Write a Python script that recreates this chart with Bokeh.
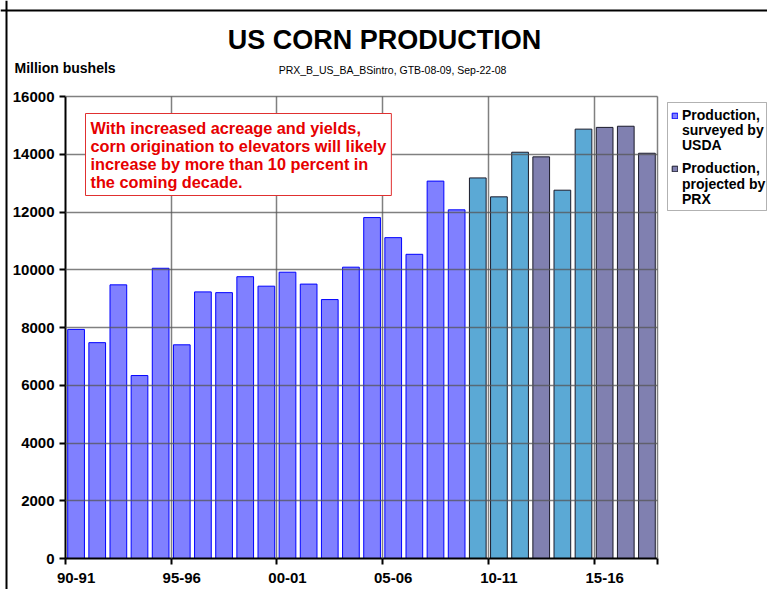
import numpy as np
from bokeh.plotting import figure
from bokeh.models import (ColumnDataSource, Label, Legend, LegendItem,
                          FixedTicker, Range1d, LinearAxis, Grid, Span,
                          BoxAnnotation)
from bokeh.embed import file_html
from bokeh.resources import INLINE

# ---------------- data ----------------
seasons = ["90-91", "91-92", "92-93", "93-94", "94-95", "95-96", "96-97",
           "97-98", "98-99", "99-00", "00-01", "01-02", "02-03", "03-04",
           "04-05", "05-06", "06-07", "07-08", "08-09", "09-10", "10-11",
           "11-12", "12-13", "13-14", "14-15", "15-16", "16-17", "17-18"]
production = [7934, 7475, 9477, 6336, 10051, 7400, 9233, 9207, 9759, 9431,
              9915, 9503, 8967, 10089, 11807, 11112, 10535, 13070, 12075,
              13180, 12525, 14070, 13910, 12755, 14870, 14930, 14970, 14035]
kind = ["surveyed", "surveyed", "surveyed", "surveyed", "surveyed",
        "surveyed", "surveyed", "surveyed", "surveyed", "surveyed",
        "surveyed", "surveyed", "surveyed", "surveyed", "surveyed",
        "surveyed", "surveyed", "surveyed", "surveyed",
        "baseline", "baseline", "baseline", "projected", "baseline",
        "baseline", "projected", "projected", "projected"]
x_label_seasons = ["90-91", "95-96", "00-01", "05-06", "10-11", "15-16"]
y_ticks = [0, 2000, 4000, 6000, 8000, 10000, 12000, 14000, 16000]

title_text = "US CORN PRODUCTION"
unit_text = "Million bushels"
source_text = "PRX_B_US_BA_BSintro, GTB-08-09, Sep-22-08"
note_text = ("With increased acreage and yields,\n"
             "corn origination to elevators will likely\n"
             "increase by more than 10 percent in\n"
             "the coming decade.")
legend_head = "Production,"
legend_usda_rest = "surveyed by\nUSDA"
legend_prx_rest = "projected by\nPRX"

# ---------------- layout (page pixels) ----------------
W, H = 767, 589          # canvas size
OX, OY = 0, 0            # canvas origin on the page
FL, FR, FT, FB = 65, 657, 96, 558   # plotting area on the page
n = len(seasons)
YMAX = 16000
kx = (FR - FL) / n
ky = (FB - FT) / YMAX


def xd(px):
    return (px - FL) / kx


def yd(py):
    return (FB - py) / ky


FONT = "Liberation Sans"

p = figure(width=W, height=H,
           x_range=Range1d(xd(OX), xd(OX + W)),
           y_range=Range1d(yd(OY + H), yd(OY)),
           x_axis_type=None, y_axis_type=None,
           output_backend="svg", toolbar_location=None,
           min_border=0, min_border_left=0, min_border_right=0,
           min_border_top=0, min_border_bottom=0)
p.background_fill_color = "white"
p.border_fill_color = "white"
p.outline_line_color = None

xpos = np.arange(n) + 0.5
cols = {"x": list(xpos), "top": production, "kind": kind, "season": seasons}


def subset(k):
    idx = [i for i in range(n) if kind[i] == k]
    return ColumnDataSource({c: [v[i] for i in idx] for c, v in cols.items()})


r_s = p.vbar(x="x", top="top", width=0.79, source=subset("surveyed"),
             fill_color="#8080FF", line_color="#0000FF", line_width=1)
r_b = p.vbar(x="x", top="top", width=0.79, source=subset("baseline"),
             fill_color="#5BA9D5", line_color="#1A1A2A", line_width=1)
r_p = p.vbar(x="x", top="top", width=0.79, source=subset("projected"),
             fill_color="#8080B0", line_color="#1A1A2A", line_width=1)

# grid lines (drawn over the bars, as in the reference)
label_pos = [seasons.index(s) + 0.5 for s in x_label_seasons]
bound_pos = [seasons.index(s) for s in x_label_seasons]
xg_ticks = bound_pos[1:] + [n]
yg_ticks = y_ticks[1:]
if "cross_bounds" in Grid.properties():
    xg = Grid(dimension=0, ticker=FixedTicker(ticks=xg_ticks),
              cross_bounds=(0, YMAX))
    yg = Grid(dimension=1, ticker=FixedTicker(ticks=yg_ticks),
              cross_bounds=(0, n))
    for g in (xg, yg):
        g.grid_line_color = "#555555"
        g.grid_line_alpha = 0.75
        g.grid_line_width = 1.5
        g.level = "annotation"
        p.add_layout(g)
else:
    p.segment(x0=xg_ticks, y0=[0] * len(xg_ticks), x1=xg_ticks,
              y1=[YMAX] * len(xg_ticks), line_color="#555555",
              line_alpha=0.75, line_width=1.5)
    p.segment(x0=[0] * len(yg_ticks), y0=yg_ticks, x1=[n] * len(yg_ticks),
              y1=yg_ticks, line_color="#555555", line_alpha=0.75,
              line_width=1.5)

# axes fixed at the data origin
xaxis = LinearAxis(fixed_location=0, bounds=(0, n),
                   ticker=FixedTicker(ticks=label_pos,
                                      minor_ticks=bound_pos + [n]))
xaxis.major_label_overrides = {lp: s for lp, s in zip(label_pos, x_label_seasons)}
xaxis.major_tick_out = 0
xaxis.major_tick_in = 0
xaxis.minor_tick_out = 6
xaxis.minor_tick_in = 0
xaxis.minor_tick_line_color = "black"
xaxis.minor_tick_line_width = 2
xaxis.major_label_standoff = 8

yaxis = LinearAxis(fixed_location=0, bounds=(0, YMAX),
                   ticker=FixedTicker(ticks=y_ticks))
yaxis.major_tick_out = 6
yaxis.major_tick_in = 0
yaxis.minor_tick_out = 0
yaxis.minor_tick_in = 0
yaxis.major_tick_line_width = 2
yaxis.major_label_standoff = 5

for ax in (xaxis, yaxis):
    ax.axis_line_color = "black"
    ax.axis_line_width = 2
    ax.major_tick_line_color = "black"
    ax.major_label_text_font = FONT
    ax.major_label_text_font_style = "bold"
    ax.major_label_text_font_size = "15px"
    ax.major_label_text_color = "black"
p.add_layout(xaxis, "below")
p.add_layout(yaxis, "left")

# outer chart border (left and top edges)
p.add_layout(Span(location=xd(6), dimension="height",
                  line_color="black", line_width=2))
p.add_layout(Span(location=yd(10), dimension="width",
                  line_color="black", line_width=2))

# texts
p.add_layout(Label(x=xd(384), y=yd(39), text=title_text,
                   text_font=FONT, text_font_style="bold",
                   text_font_size="27px", text_align="center",
                   text_baseline="middle", text_color="black"))
p.add_layout(Label(x=xd(14), y=yd(67), text=unit_text,
                   text_font=FONT, text_font_style="bold",
                   text_font_size="14px", text_align="left",
                   text_baseline="middle", text_color="black"))
p.add_layout(Label(x=xd(392), y=yd(69), text=source_text,
                   text_font=FONT, text_font_size="10.5px",
                   text_align="center", text_baseline="middle",
                   text_color="black"))
p.add_layout(Label(x=xd(85), y=yd(113), text=note_text,
                   text_font=FONT, text_font_style="bold",
                   text_font_size="16.3px", text_align="left",
                   text_baseline="top", text_color="#E60000",
                   text_line_height=1.0, padding=5,
                   background_fill_color="white",
                   border_line_color="#E03030", border_line_width=1))

# legend: framed box, library legend for glyph + first line, rest as labels
p.add_layout(BoxAnnotation(left=xd(667), right=xd(766), top=yd(102),
                           bottom=yd(210), fill_color="white", fill_alpha=1,
                           line_color="black", line_width=1))
legend = Legend(items=[LegendItem(label=legend_head, renderers=[r_s]),
                       LegendItem(label=legend_head, renderers=[r_p])],
                location=(671 - OX, OY + H - 176))
legend.label_text_font = FONT
legend.label_text_font_style = "bold"
legend.label_text_font_size = "14px"
legend.label_text_color = "black"
legend.glyph_width = 7
legend.glyph_height = 7
legend.label_standoff = 4
legend.padding = 0
legend.spacing = 37
legend.margin = 0
legend.border_line_color = None
legend.background_fill_alpha = 0
p.add_layout(legend)
for rest, ytop in ((legend_usda_rest, 121.5), (legend_prx_rest, 175.0)):
    p.add_layout(Label(x=xd(681.5), y=yd(ytop), text=rest,
                       text_font=FONT, text_font_style="bold",
                       text_font_size="14px", text_align="left",
                       text_baseline="top", text_line_height=0.96,
                       text_color="black"))

open("out.html", "w").write(file_html(p, INLINE))
